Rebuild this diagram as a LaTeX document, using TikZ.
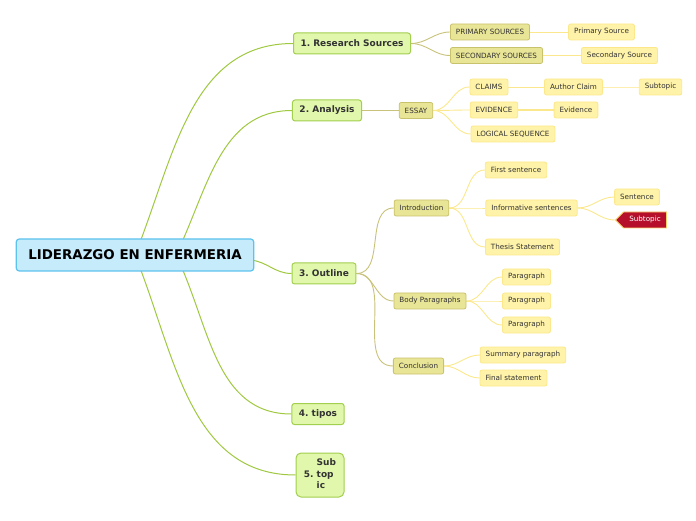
\documentclass[tikz,border=0pt]{standalone}
\usepackage{fontspec}
\setmainfont{DejaVu Sans}
\frenchspacing
\usetikzlibrary{shapes.symbols}
\pgfdeclarelayer{bg}
\pgfsetlayers{bg,main}

\definecolor{rootfill}{HTML}{C6ECFC}
\definecolor{rootline}{HTML}{5CC2EE}
\definecolor{topfill}{HTML}{E1F7AC}
\definecolor{topline}{HTML}{A2CF4E}
\definecolor{midfill}{HTML}{E9E596}
\definecolor{midline}{HTML}{C9C26C}
\definecolor{leaffill}{HTML}{FFF3AA}
\definecolor{leafline}{HTML}{FCE88A}
\definecolor{tagred}{HTML}{B60F2B}
\definecolor{inkgray}{HTML}{333333}
\definecolor{greenlink}{HTML}{A0C840}
\definecolor{khakilink}{HTML}{C8C27A}
\definecolor{yellowlink}{HTML}{FBE88C}

\begin{document}
\begin{tikzpicture}[x=1pt,y=1pt,
  rootbox/.style={draw=rootline,fill=rootfill,line width=1.2pt,rounded corners=3pt,
    minimum height=32pt,inner xsep=12pt,font=\fontsize{13.4}{15}\selectfont\bfseries},
  topicbox/.style={draw=topline,fill=topfill,line width=1pt,rounded corners=2.5pt,
    minimum height=21pt,inner xsep=7pt,text=inkgray,font=\fontsize{9}{11.5}\selectfont\bfseries},
  midbox/.style={draw=midline,fill=midfill,line width=0.8pt,rounded corners=2pt,
    minimum height=16pt,inner xsep=5.5pt,text=inkgray,font=\fontsize{7.2}{8}\selectfont},
  leafbox/.style={draw=leafline,fill=leaffill,line width=0.8pt,rounded corners=2pt,
    minimum height=16pt,inner xsep=5.5pt,text=inkgray,font=\fontsize{7.2}{8}\selectfont},
  rootlink/.style={draw=greenlink,line width=1pt},
  midlink/.style={draw=khakilink,line width=0.9pt},
  leaflink/.style={draw=yellowlink,line width=0.9pt}]

  \useasboundingbox (0,0) rectangle (696,520);

  % centre
  \node[rootbox] (root) at (135,265) {LIDERAZGO EN ENFERMERIA};

  % main topics
  \node[topicbox] (research) at (352,476.5) {1. Research Sources};
  \node[topicbox] (analysis) at (327,409.5) {2. Analysis};
  \node[topicbox] (outline)  at (324,246.5) {3. Outline};
  \node[topicbox] (tipos)    at (318,106)   {4. tipos};
  \node[topicbox,rounded corners=5pt,minimum width=48pt,minimum height=44pt,inner xsep=2pt]
    (subtopic) at (320,45)
    {\begin{tabular}{@{}r@{\ }l@{}} & Sub\\ 5. & top\\ & ic\end{tabular}};

  % research sources
  \node[midbox]  (primary)   at (490,488)   {PRIMARY SOURCES};
  \node[midbox]  (secondary) at (496.5,464.5) {SECONDARY SOURCES};
  \node[leafbox] (primsrc)   at (601.5,488) {Primary Source};
  \node[leafbox] (secsrc)    at (619.5,464.5) {Secondary Source};

  % analysis
  \node[midbox]  (essay)    at (416,409.5) {ESSAY};
  \node[leafbox] (claims)   at (489,433)   {CLAIMS};
  \node[leafbox] (evidence) at (494,410)   {EVIDENCE};
  \node[leafbox] (logical)  at (513,386)   {LOGICAL SEQUENCE};
  \node[leafbox] (author)   at (573.5,433) {Author Claim};
  \node[leafbox] (evid)     at (576,410)   {Evidence};
  \node[leafbox] (claimsub) at (660.5,433) {Subtopic};

  % outline
  \node[midbox]  (intro)   at (421.5,312) {Introduction};
  \node[midbox]  (body)    at (430,219)   {Body Paragraphs};
  \node[midbox]  (concl)   at (418.5,154) {Conclusion};
  \node[leafbox] (first)   at (516,350)   {First sentence};
  \node[leafbox] (inform)  at (531.5,312) {Informative sentences};
  \node[leafbox] (thesis)  at (522.5,273) {Thesis Statement};
  \node[leafbox] (sentence) at (637,323)  {Sentence};
  \node[leafbox,shape=signal,signal to=west,fill=tagred,draw=leafline!80!orange,
    text=white,rounded corners=0pt,minimum width=51pt] (redtag) at (645,300) {Subtopic};
  \foreach \n/\y in {1/243, 2/219, 3/195}
    \node[leafbox] (para\n) at (526.5,\y) {Paragraph};
  \node[leafbox] (summary) at (523,165)   {Summary paragraph};
  \node[leafbox] (final)   at (513.5,142) {Final statement};

  \begin{pgfonlayer}{bg}
    % from the centre
    \draw[rootlink] (root.center) to[out=68,in=180] (research.west);
    \draw[rootlink] (root.center) ++(41,0) to[out=64,in=180] (analysis.west);
    \draw[rootlink] (root.east) ++(-4,-5) to[out=-5,in=180] (outline.west);
    \draw[rootlink] (root.center) ++(41,0) to[out=-64,in=180] (tipos.west);
    \draw[rootlink] (root.center) to[out=-68,in=180] (subtopic.west);

    \foreach \kid in {primary, secondary}
      \draw[midlink] (research.east) to[out=0,in=180] (\kid.west);
    \draw[midlink,line width=1.6pt] (analysis.east) -- (essay.west);
    \foreach \kid in {intro, body, concl}
      \draw[midlink] (outline.east) to[out=0,in=180] (\kid.west);

    \draw[leaflink] (primary.east) -- (primsrc.west);
    \draw[leaflink] (secondary.east) -- (secsrc.west);
    \foreach \kid in {claims, evidence, logical}
      \draw[leaflink] (essay.east) to[out=0,in=180] (\kid.west);
    \draw[leaflink] (claims.east) -- (author.west);
    \draw[leaflink,line width=1.4pt] (evidence.east) -- (evid.west);
    \draw[leaflink,draw=yellowlink!70!white] (author.east) -- (claimsub.west);
    \foreach \kid in {first, inform, thesis}
      \draw[leaflink] (intro.east) to[out=0,in=180] (\kid.west);
    \foreach \kid in {sentence, redtag}
      \draw[leaflink] (inform.east) to[out=0,in=180] (\kid.west);
    \foreach \kid in {para1, para2, para3}
      \draw[leaflink] (body.east) to[out=0,in=180] (\kid.west);
    \foreach \kid in {summary, final}
      \draw[leaflink] (concl.east) to[out=0,in=180] (\kid.west);
  \end{pgfonlayer}
\end{tikzpicture}
\end{document}
